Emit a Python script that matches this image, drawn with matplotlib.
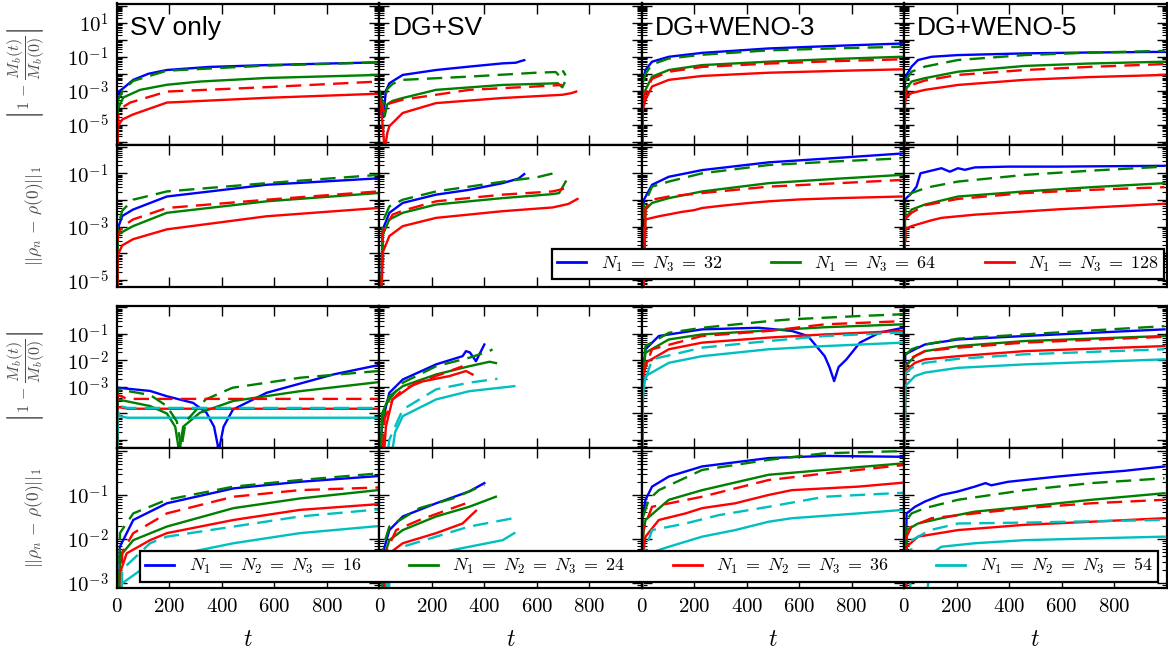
import numpy as np
import matplotlib.pyplot as plt
from matplotlib.ticker import LogLocator, FuncFormatter, NullFormatter, FixedLocator
from matplotlib.lines import Line2D

plt.rcParams['mathtext.fontset'] = 'cm'
plt.rcParams['xtick.direction'] = 'in'
plt.rcParams['ytick.direction'] = 'in'

# values are log10 of the plotted quantity; -8 = drops to zero
# ---- row 1: mass error, 2D runs (N1 = N3 = 32, 64, 128; "alt" = dashed runs)
m2_sv = {
    'n32':      ([0, 2, 24, 62, 120, 190, 350, 570, 800, 995], [-8, -3.1, -2.85, -2.36, -2.0, -1.78, -1.6, -1.49, -1.4, -1.33]),
    'n64':      ([0, 3, 24, 88, 190, 316, 570, 995], [-8, -4.1, -3.4, -2.95, -2.65, -2.46, -2.25, -2.07]),
    'n128':     ([0, 3, 20, 61, 190, 570, 995], [-8, -5.1, -4.7, -4.4, -3.7, -3.42, -3.18]),
    'n64_alt':  ([0, 5, 24, 62, 190, 570, 995], [-8, -3.5, -2.95, -2.42, -1.82, -1.52, -1.33]),
    'n128_alt': ([0, 5, 24, 50, 190, 570, 995], [-8, -4.3, -3.95, -3.7, -3.05, -2.79, -2.46]),
}
m2_dgsv = {
    'n32':      ([0, 8, 15, 25, 38, 89, 216, 342, 469, 520, 540, 552], [-3.2, -3.5, -4.5, -3.0, -2.56, -2.07, -1.78, -1.58, -1.39, -1.35, -1.25, -1.2]),
    'n64':      ([0, 10, 20, 30, 50, 89, 216, 469, 680, 697, 705], [-3.0, -3.7, -4.5, -3.8, -3.6, -3.43, -2.95, -2.66, -2.56, -2.8, -2.55]),
    'n128':     ([0, 10, 20, 30, 38, 89, 216, 469, 697, 730, 750], [-3.8, -4.6, -6.5, -5.5, -5.09, -4.31, -3.73, -3.43, -3.24, -3.15, -3.05]),
    'n64_alt':  ([0, 10, 20, 30, 50, 89, 342, 596, 672, 690, 700, 710], [-3.5, -4.0, -3.6, -2.9, -2.6, -2.36, -2.17, -1.94, -1.9, -2.2, -1.85, -2.1]),
    'n128_alt': ([0, 15, 30, 50, 89, 342, 596, 697], [-3.4, -4.2, -3.8, -3.7, -3.53, -2.95, -2.75, -2.66]),
}
m2_w3 = {
    'n32':      ([0, 3, 14, 39, 103, 230, 483, 750, 990], [-8, -2.5, -1.78, -1.29, -1.0, -0.77, -0.51, -0.35, -0.22]),
    'n64':      ([0, 3, 14, 39, 103, 230, 483, 750, 990], [-8, -3.5, -2.95, -2.17, -1.78, -1.49, -1.29, -1.12, -1.0]),
    'n128':     ([0, 3, 14, 39, 103, 230, 483, 750, 990], [-8, -4.2, -3.53, -2.75, -2.36, -2.13, -1.94, -1.83, -1.74]),
    'n64_alt':  ([0, 3, 14, 39, 103, 230, 483, 750, 990], [-8, -2.8, -2.0, -1.45, -1.1, -0.88, -0.62, -0.5, -0.41]),
    'n128_alt': ([0, 3, 14, 39, 103, 230, 483, 750, 990], [-8, -3.7, -3.1, -2.3, -1.88, -1.6, -1.4, -1.25, -1.15]),
}
m2_w5 = {
    'n32':      ([0, 3, 9, 28, 53, 104, 205, 459, 700, 992], [-8, -2.5, -2.07, -1.58, -1.19, -1.0, -0.9, -0.8, -0.75, -0.71]),
    'n64':      ([0, 3, 9, 28, 79, 205, 459, 700, 992], [-8, -3.2, -2.85, -2.46, -2.26, -1.88, -1.54, -1.4, -1.29]),
    'n128':     ([0, 3, 9, 28, 79, 205, 459, 700, 992], [-8, -3.7, -3.34, -3.14, -2.95, -2.66, -2.36, -2.2, -2.07]),
    'n64_alt':  ([0, 3, 9, 28, 79, 205, 459, 700, 992], [-8, -2.7, -2.3, -1.88, -1.58, -1.19, -0.9, -0.76, -0.65]),
    'n128_alt': ([0, 3, 9, 28, 79, 205, 459, 700, 992], [-8, -3.4, -3.0, -2.66, -2.4, -2.07, -1.78, -1.6, -1.43]),
}

# ---- row 2: L1 error, 2D runs
l2_sv = {
    'n32':      ([0, 2, 20, 61, 190, 570, 995], [-8, -3.1, -2.6, -2.36, -1.87, -1.43, -1.19]),
    'n64':      ([0, 3, 20, 61, 190, 570, 995], [-8, -3.3, -3.2, -2.98, -2.48, -2.05, -1.74]),
    'n128':     ([0, 2, 20, 61, 190, 570, 995], [-8, -4.09, -3.7, -3.47, -3.1, -2.61, -2.3]),
    'n64_alt':  ([0, 3, 20, 61, 190, 570, 995], [-8, -3.0, -2.4, -1.99, -1.68, -1.37, -1.06]),
    'n128_alt': ([0, 3, 20, 61, 190, 570, 995], [-8, -3.3, -3.0, -2.73, -2.3, -1.99, -1.68]),
}
l2_dgsv = {
    'n32':      ([0, 13, 38, 89, 216, 342, 469, 530, 552], [-8, -3.1, -2.48, -2.11, -1.8, -1.62, -1.37, -1.2, -1.03]),
    'n64':      ([0, 13, 38, 89, 216, 469, 660, 685, 710], [-8, -3.3, -2.73, -2.48, -2.17, -1.93, -1.78, -1.74, -1.31]),
    'n128':     ([0, 13, 38, 89, 216, 469, 660, 720, 755], [-8, -3.96, -3.35, -2.98, -2.67, -2.42, -2.28, -2.15, -1.96]),
    'n64_alt':  ([0, 13, 38, 89, 216, 342, 480, 600, 672], [-8, -2.8, -2.24, -1.99, -1.68, -1.5, -1.3, -1.15, -0.98]),
    'n128_alt': ([0, 13, 50, 89, 216, 469, 660, 716], [-8, -3.2, -2.55, -2.4, -2.05, -1.8, -1.68, -1.55]),
}
l2_w3 = {
    'n32':      ([0, 8, 39, 103, 230, 483, 750, 990], [-8, -1.99, -1.43, -1.13, -0.88, -0.59, -0.42, -0.26]),
    'n64':      ([0, 14, 39, 103, 230, 483, 750, 990], [-8, -2.36, -2.11, -1.93, -1.68, -1.37, -1.2, -1.06]),
    'n128':     ([0, 14, 39, 70, 103, 150, 200, 230, 300, 400, 483, 600, 750, 990],
                 [-8, -2.73, -2.67, -2.6, -2.54, -2.45, -2.38, -2.3, -2.22, -2.12, -2.05, -1.98, -1.93, -1.87]),
    'n64_alt':  ([0, 8, 39, 103, 230, 483, 750, 990], [-8, -2.2, -1.5, -1.31, -1.0, -0.69, -0.55, -0.44]),
    'n128_alt': ([0, 14, 39, 103, 230, 483, 750, 990], [-8, -2.3, -1.99, -1.87, -1.74, -1.5, -1.37, -1.25]),
}
l2_w5 = {
    'n32':      ([0, 2, 28, 47, 62, 104, 142, 174, 205, 231, 269, 396, 586, 840, 992],
                 [-8, -1.99, -1.74, -1.5, -1.0, -0.9, -0.81, -0.94, -0.81, -0.87, -0.78, -0.75, -0.75, -0.73, -0.72]),
    'n64':      ([0, 3, 28, 79, 205, 459, 713, 992], [-8, -2.73, -2.36, -2.17, -1.87, -1.68, -1.52, -1.37]),
    'n128':     ([0, 2, 28, 104, 142, 269, 586, 840, 992], [-8, -3.1, -2.98, -2.76, -2.67, -2.55, -2.35, -2.22, -2.14]),
    'n64_alt':  ([0, 5, 28, 62, 104, 205, 459, 713, 992], [-8, -2.0, -1.74, -1.62, -1.5, -1.31, -1.06, -0.9, -0.75]),
    'n128_alt': ([0, 5, 28, 79, 205, 459, 713, 992], [-8, -2.7, -2.48, -2.2, -1.96, -1.74, -1.62, -1.52]),
}

# ---- row 3: mass error, 3D runs (N1 = N2 = N3 = 16, 24, 36, 54)
m3_sv = {
    'n16':     ([0, 3, 126, 190, 290, 341, 370, 384, 388, 392, 406, 442, 570, 824, 995],
                [-8, -3.03, -3.15, -3.35, -3.6, -3.97, -4.5, -5.2, -8, -5.2, -4.5, -3.85, -3.22, -2.53, -2.18]),
    'n24':     ([0, 3, 126, 190, 222, 233, 237, 241, 252, 316, 442, 697, 995],
                [-8, -3.47, -3.72, -4.0, -4.5, -5.2, -8, -5.2, -4.5, -3.97, -3.53, -3.16, -2.82]),
    'n36':     ([0, 2, 40, 995], [-8, -3.75, -3.82, -3.82]),
    'n54':     ([0, 3, 10, 40, 995], [-8, -3.9, -4.1, -4.16, -4.16]),
    'n24_alt': ([0, 3, 126, 190, 228, 240, 245, 250, 262, 338, 440, 700, 995],
                [-8, -3.09, -3.3, -3.72, -4.3, -5.0, -8, -5.0, -4.3, -3.47, -3.03, -2.65, -2.4]),
    'n36_alt': ([0, 2, 40, 995], [-8, -3.3, -3.45, -3.45]),
    'n54_alt': ([0, 2, 40, 995], [-8, -3.7, -3.79, -3.79]),
}
m3_dgsv = {
    'n16':     ([0, 5, 13, 38, 89, 216, 317, 330, 345, 368, 400], [-8, -5, -4.23, -3.22, -2.72, -2.15, -1.84, -1.65, -1.7, -2.03, -1.4]),
    'n24':     ([0, 10, 38, 89, 216, 342, 420, 444], [-8, -4.0, -3.35, -2.97, -2.53, -2.22, -2.05, -2.1]),
    'n36':     ([0, 25, 50, 89, 140, 267, 330, 355], [-8, -4.48, -3.47, -3.2, -2.84, -2.59, -2.4, -2.53]),
    'n54':     ([0, 40, 60, 89, 216, 342, 514], [-8, -6, -4.7, -4.1, -3.47, -3.16, -2.97]),
    'n24_alt': ([0, 10, 38, 89, 216, 342, 420, 431], [-8, -4.2, -3.47, -2.84, -2.22, -1.9, -1.65, -1.58]),
    'n36_alt': ([0, 20, 50, 89, 216, 317], [-8, -4.2, -3.47, -3.09, -2.59, -2.22]),
    'n54_alt': ([0, 38, 89, 216, 342, 450], [-8, -4.98, -3.85, -3.09, -2.84, -2.69]),
}
m3_w3 = {
    'n16':     ([0, 3, 14, 65, 230, 445, 572, 633, 697, 715, 733, 750, 780, 831, 907, 996],
                [-8, -2.5, -1.58, -1.08, -0.83, -0.77, -0.89, -1.08, -1.84, -2.25, -2.78, -2.25, -1.96, -1.33, -0.95, -0.77]),
    'n24':     ([0, 3, 14, 103, 230, 483, 698, 996], [-8, -2.7, -1.71, -1.21, -1.02, -0.87, -0.75, -0.64]),
    'n36':     ([0, 3, 14, 103, 230, 483, 698, 996], [-8, -3.0, -2.09, -1.58, -1.33, -1.14, -1.02, -0.89]),
    'n54':     ([0, 3, 14, 103, 230, 483, 698, 996], [-8, -3.5, -2.59, -2.09, -1.84, -1.58, -1.46, -1.33]),
    'n24_alt': ([0, 3, 14, 103, 230, 483, 572, 825, 996], [-8, -2.4, -1.46, -0.96, -0.77, -0.52, -0.45, -0.33, -0.26]),
    'n36_alt': ([0, 5, 39, 230, 483, 698, 996], [-8, -2.5, -1.58, -1.08, -0.89, -0.64, -0.52]),
    'n54_alt': ([0, 5, 39, 230, 483, 698, 996], [-8, -3.0, -1.96, -1.52, -1.27, -1.08, -0.95]),
}
m3_w5 = {
    'n16':     ([0, 4, 41, 79, 205, 459, 992], [-8, -1.77, -1.58, -1.4, -1.21, -1.08, -0.83]),
    'n24':     ([0, 4, 41, 79, 205, 459, 992], [-8, -2.22, -1.84, -1.65, -1.46, -1.27, -1.08]),
    'n36':     ([0, 4, 41, 79, 205, 459, 992], [-8, -2.4, -2.09, -1.96, -1.84, -1.65, -1.46]),
    'n54':     ([0, 4, 41, 79, 205, 459, 992], [-8, -2.97, -2.59, -2.46, -2.28, -2.15, -1.96]),
    'n24_alt': ([0, 4, 28, 79, 205, 459, 992], [-8, -1.8, -1.58, -1.4, -1.18, -1.02, -0.71]),
    'n36_alt': ([0, 4, 28, 79, 205, 459, 992], [-8, -2.1, -1.9, -1.65, -1.52, -1.33, -1.11]),
    'n54_alt': ([0, 4, 28, 79, 205, 459, 992], [-8, -2.5, -2.28, -2.09, -1.94, -1.77, -1.58]),
}

# ---- row 4: L1 error, 3D runs
l3_sv = {
    'n16':     ([0, 11, 62, 190, 444, 697, 995], [-8, -2.18, -1.57, -1.19, -0.85, -0.7, -0.57]),
    'n24':     ([0, 11, 62, 190, 444, 697, 995], [-8, -2.4, -2.03, -1.72, -1.3, -1.08, -0.89]),
    'n36':     ([0, 10, 37, 126, 190, 444, 697, 995], [-8, -2.8, -2.33, -2.03, -1.87, -1.57, -1.34, -1.21]),
    'n54':     ([0, 11, 126, 190, 444, 697, 995], [-8, -3.05, -2.56, -2.41, -2.1, -1.87, -1.71]),
    'n24_alt': ([0, 11, 62, 190, 444, 697, 995], [-8, -1.87, -1.42, -1.11, -0.81, -0.66, -0.51]),
    'n36_alt': ([0, 20, 62, 190, 444, 697, 995], [-8, -2.3, -1.87, -1.42, -1.04, -0.89, -0.83]),
    'n54_alt': ([0, 20, 126, 190, 444, 697, 995], [-8, -2.7, -2.1, -1.95, -1.72, -1.49, -1.33]),
}
l3_dgsv = {
    'n16':     ([0, 13, 38, 89, 216, 342, 400], [-8, -2.33, -1.8, -1.49, -1.19, -0.92, -0.73]),
    'n24':     ([0, 13, 38, 89, 216, 342, 444], [-8, -2.5, -2.03, -1.8, -1.49, -1.27, -1.04]),
    'n36':     ([0, 38, 89, 216, 317, 368], [-8, -2.33, -2.1, -1.87, -1.65, -1.36]),
    'n54':     ([0, 38, 89, 216, 342, 470, 514], [-8, -3.0, -2.63, -2.33, -2.18, -2.03, -1.87]),
    'n24_alt': ([0, 13, 38, 153, 280, 400], [-8, -2.2, -1.72, -1.3, -1.08, -0.77]),
    'n36_alt': ([0, 25, 64, 153, 330], [-8, -2.3, -1.8, -1.57, -1.19]),
    'n54_alt': ([0, 30, 89, 216, 342, 510], [-8, -2.8, -2.18, -1.95, -1.72, -1.53]),
}
l3_w3 = {
    'n16':     ([0, 3, 14, 39, 103, 230, 483, 698, 996], [-8, -1.5, -1.11, -0.81, -0.58, -0.35, -0.16, -0.11, -0.13]),
    'n24':     ([0, 3, 14, 103, 230, 483, 698, 996], [-8, -2.0, -1.57, -1.11, -0.89, -0.54, -0.43, -0.28]),
    'n36':     ([0, 3, 14, 65, 167, 230, 356, 483, 572, 825, 996], [-8, -2.4, -1.95, -1.57, -1.42, -1.3, -1.19, -1.0, -0.89, -0.81, -0.72]),
    'n54':     ([0, 3, 26, 103, 230, 356, 483, 572, 825, 996], [-8, -2.8, -2.33, -2.18, -1.95, -1.8, -1.61, -1.53, -1.42, -1.34]),
    'n24_alt': ([0, 5, 26, 65, 230, 483, 698, 996], [-8, -1.5, -1.11, -0.89, -0.43, -0.2, -0.05, 0.0]),
    'n36_alt': ([0, 5, 39, 230, 483, 698, 996], [-8, -1.8, -1.27, -1.04, -0.66, -0.51, -0.32]),
    'n54_alt': ([0, 5, 39, 167, 293, 483, 698, 996], [-8, -2.4, -1.8, -1.65, -1.46, -1.27, -1.04, -0.95]),
}
l3_w5 = {
    'n16':     ([0, 9, 41, 79, 142, 205, 269, 310, 332, 396, 459, 586, 713, 840, 992],
                [-8, -1.42, -1.27, -1.15, -1.0, -0.92, -0.81, -0.73, -0.78, -0.7, -0.66, -0.58, -0.51, -0.45, -0.35]),
    'n24':     ([0, 9, 53, 142, 269, 459, 713, 992], [-8, -1.8, -1.65, -1.53, -1.38, -1.27, -1.11, -0.96]),
    'n36':     ([0, 9, 53, 205, 459, 713, 992], [-8, -2.18, -1.95, -1.8, -1.68, -1.61, -1.53]),
    'n54':     ([0, 104, 142, 269, 459, 713, 992], [-8, -2.33, -2.18, -2.1, -2.03, -1.99, -1.95]),
    'n24_alt': ([0, 5, 28, 79, 205, 459, 713, 992], [-8, -1.6, -1.42, -1.3, -1.11, -0.89, -0.73, -0.62]),
    'n36_alt': ([0, 5, 28, 104, 269, 459, 713, 992], [-8, -2.0, -1.72, -1.53, -1.42, -1.3, -1.19, -1.11]),
    'n54_alt': ([0, 28, 100, 205, 459, 713, 992], [-8, -2.03, -1.8, -1.65, -1.63, -1.6, -1.57]),
}

titles = ['SV only', 'DG+SV', 'DG+WENO-3', 'DG+WENO-5']
panels = [[m2_sv, m2_dgsv, m2_w3, m2_w5],
          [l2_sv, l2_dgsv, l2_w3, l2_w5],
          [m3_sv, m3_dgsv, m3_w3, m3_w5],
          [l3_sv, l3_dgsv, l3_w3, l3_w5]]

ylims = [(-6.2, 2.14), (-5.26, 0.06), (-5.3, 0.05), (-3.12, 0.07)]
ylabeled = [[1, -1, -3, -5], [-1, -3, -5], [-1, -2, -3], [-1, -2, -3]]

colors = {'n32': 'b', 'n64': 'g', 'n128': 'r',
          'n16': 'b', 'n24': 'g', 'n36': 'r', 'n54': 'c'}
labels2d = {'n32': r'$N_1\;=\;N_3\;=\;32$', 'n64': r'$N_1\;=\;N_3\;=\;64$',
            'n128': r'$N_1\;=\;N_3\;=\;128$'}
labels3d = {'n16': r'$N_1\;=\;N_2\;=\;N_3\;=\;16$', 'n24': r'$N_1\;=\;N_2\;=\;N_3\;=\;24$',
            'n36': r'$N_1\;=\;N_2\;=\;N_3\;=\;36$', 'n54': r'$N_1\;=\;N_2\;=\;N_3\;=\;54$'}

W, H = 1168, 657
fig = plt.figure(figsize=(W / 100, H / 100), dpi=100)

col_x = [117 + i * 262.4 for i in range(4)]
row_y = [(3.5, 145), (145, 287), (306, 448), (448, 588)]

ylab_mass = r'$\left|1\,-\,\dfrac{M_b(t)}{M_b(0)}\right|$'
ylab_l1 = r'$||\rho_n\,-\,\rho(0)||_1$'

for r in range(4):
    for c in range(4):
        y0, y1 = row_y[r]
        ax = fig.add_axes([col_x[c] / W, 1 - y1 / H, 262.4 / W, (y1 - y0) / H])
        data = panels[r][c]
        for key, (tt, lv) in data.items():
            base = key.replace('_alt', '')
            if key.endswith('_alt'):
                ax.plot(tt, 10.0 ** np.array(lv), color=colors[base], lw=1.7,
                        dashes=(6.5, 3.5))
            else:
                ax.plot(tt, 10.0 ** np.array(lv), color=colors[base], lw=1.7)
        ax.set_yscale('log')
        ax.set_xlim(0, 1000)
        ax.set_ylim(10 ** ylims[r][0], 10 ** ylims[r][1])
        ax.yaxis.set_major_locator(LogLocator(base=10, numticks=100))
        ax.yaxis.set_minor_locator(LogLocator(base=10, subs=np.arange(2, 10), numticks=100))
        ax.yaxis.set_minor_formatter(NullFormatter())
        if c == 0:
            labs = ylabeled[r]
            ax.yaxis.set_major_formatter(FuncFormatter(
                lambda v, p, labs=labs: r'$10^{%d}$' % int(round(np.log10(v)))
                if int(round(np.log10(v))) in labs else ''))
        else:
            ax.yaxis.set_major_formatter(NullFormatter())
        ax.xaxis.set_major_locator(FixedLocator([0, 200, 400, 600, 800]))
        if r == 3:
            ax.xaxis.set_major_formatter(FuncFormatter(lambda v, p: r'$%d$' % v))
            ax.set_xlabel(r'$t$', fontsize=17, labelpad=8)
        else:
            ax.xaxis.set_major_formatter(NullFormatter())
        ax.tick_params(which='both', top=True, right=True, labelsize=15, pad=6)
        ax.tick_params(which='major', length=7, width=1.0)
        ax.tick_params(which='minor', length=3.5, width=0.8)
        for s in ax.spines.values():
            s.set_linewidth(1.6)
        if c == 0:
            if r in (0, 2):
                ax.set_ylabel(ylab_mass, fontsize=11.5, color='0.3')
            else:
                ax.set_ylabel(ylab_l1, fontsize=12.5, color='0.3')
            ax.yaxis.set_label_coords(-0.27, 0.5)
        if r == 0:
            ax.text(0.05, 0.91, titles[c], transform=ax.transAxes, ha='left', va='top',
                    fontsize=19, family='Liberation Sans')

# legends
h2 = [Line2D([], [], color=colors[k], lw=2) for k in ['n32', 'n64', 'n128']]
leg = fig.legend(h2, [labels2d[k] for k in ['n32', 'n64', 'n128']],
                 loc='lower left', bbox_to_anchor=(552 / W, 1 - 279 / H, 612 / W, 0.04),
                 mode='expand', ncol=3, fontsize=13, handlelength=1.6, borderaxespad=0,
                 borderpad=0.3, fancybox=False, framealpha=1, edgecolor='k')
leg.get_frame().set_linewidth(1.6)

h3 = [Line2D([], [], color=colors[k], lw=2) for k in ['n16', 'n24', 'n36', 'n54']]
leg = fig.legend(h3, [labels3d[k] for k in ['n16', 'n24', 'n36', 'n54']],
                 loc='lower left', bbox_to_anchor=(140 / W, 1 - 581.5 / H, 1018 / W, 0.04),
                 mode='expand', ncol=4, fontsize=13, handlelength=1.6, borderaxespad=0,
                 borderpad=0.3, fancybox=False, framealpha=1, edgecolor='k')
leg.get_frame().set_linewidth(1.6)

fig.savefig('out.png', dpi=100)
